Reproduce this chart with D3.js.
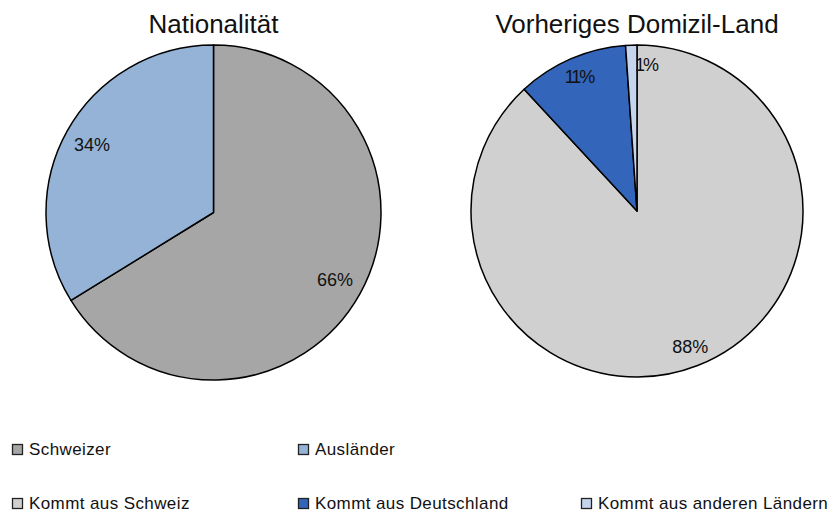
<!DOCTYPE html>
<html>
<head>
<meta charset="utf-8">
<script src="https://cdn.jsdelivr.net/npm/d3@7"></script>
<style>
  body { margin: 0; background: #fff; }
  text { font-family: "Liberation Sans", Arial, sans-serif; }
</style>
</head>
<body>
<div id="chart"></div>
<script>
// Nationalität
const natLabels = ["Schweizer", "Ausländer"];
const natValues = [66.2, 33.8];
const natColors = ["#a6a6a6", "#95b3d7"];

// Vorheriges Domizil-Land
const domLabels = ["Kommt aus Schweiz", "Kommt aus Deutschland", "Kommt aus anderen Ländern"];
const domValues = [88.1, 10.8, 1.1];
const domColors = ["#d0d0d0", "#3366bb", "#c6d5ee"];

const width = 835, height = 512;

const svg = d3.select("#chart").append("svg")
    .attr("width", width)
    .attr("height", height);

const pie = d3.pie().sort(null).value(d => d);

function drawPie(title, values, colors, cx, cy, r, labelK) {
    const g = svg.append("g").attr("transform", `translate(${cx},${cy})`);
    const arcs = pie(values);
    const arc = d3.arc().innerRadius(0).outerRadius(r);
    const labelArc = d3.arc().innerRadius(r * labelK).outerRadius(r * labelK);

    g.selectAll("path")
        .data(arcs)
        .join("path")
        .attr("d", arc)
        .attr("fill", (d, i) => colors[i])
        .attr("stroke", "#000")
        .attr("stroke-width", 1.5)
        .attr("stroke-linejoin", "round");

    g.selectAll("text.lbl")
        .data(arcs)
        .join("text")
        .attr("class", "lbl")
        .attr("transform", d => {
            const c = labelArc.centroid(d);
            // tiny slices: label sits just right of the slice
            if (d.endAngle - d.startAngle < 0.1) c[0] += 14;
            return `translate(${c})`;
        })
        .attr("text-anchor", "middle")
        .attr("dominant-baseline", "central")
        .style("font-size", "18px")
        .style("letter-spacing", d => (d.endAngle - d.startAngle < 0.8 ? "-2px" : "0px"))
        .attr("fill", "#111")
        .text(d => Math.round(d.value) + "%");

    svg.append("text")
        .attr("x", cx)
        .attr("y", 33)
        .attr("text-anchor", "middle")
        .style("font-size", "26px")
        .attr("fill", "#111")
        .text(title);
}

drawPie("Nationalität", natValues, natColors, 213.5, 212.5, 167.5, 0.83);
drawPie("Vorheriges Domizil-Land", domValues, domColors, 637, 211, 166, 0.88);

// legend
const colX = [12, 298, 581];
function legendRow(labels, colors, y) {
    const g = svg.append("g").attr("transform", `translate(0,${y})`);
    const item = g.selectAll("g")
        .data(labels)
        .join("g")
        .attr("transform", (d, i) => `translate(${colX[i]},0)`);
    item.append("rect")
        .attr("x", 0.5).attr("y", -10.5)
        .attr("width", 10).attr("height", 10)
        .attr("fill", (d, i) => colors[i])
        .attr("stroke", "#222")
        .attr("stroke-width", 1.3);
    item.append("text")
        .attr("x", 17)
        .attr("y", 0)
        .style("font-size", "17px")
        .style("letter-spacing", "0.4px")
        .attr("fill", "#111")
        .text(d => d);
}
legendRow(natLabels, natColors, 455);
legendRow(domLabels, domColors, 509);
</script>
</body>
</html>
